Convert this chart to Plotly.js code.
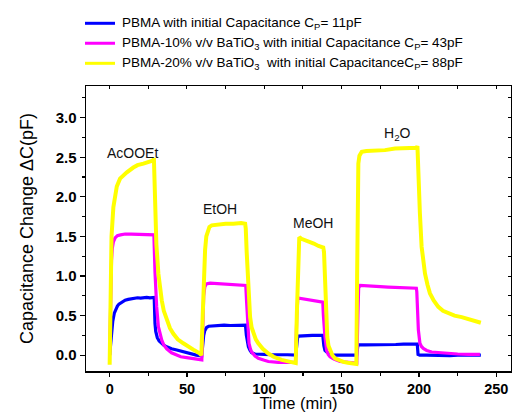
<!DOCTYPE html>
<html>
<head>
<meta charset="utf-8">
<script src="https://cdn.plot.ly/plotly-3.0.1.min.js"></script>
<style>html,body{margin:0;padding:0;background:#fff;}#chart{width:512px;height:412px;}</style>
</head>
<body>
<div id="chart"></div>
<script>
// Series names
const seriesNames = [
  "PBMA with initial Capacitance C<sub>P</sub>= 11pF",
  "PBMA-10% v/v BaTiO<sub>3</sub> with initial Capacitance C<sub>P</sub>= 43pF",
  "PBMA-20% v/v BaTiO<sub>3</sub>\u00a0 with initial CapacitanceC<sub>P</sub>= 88pF"
];
const seriesColors = ["#0000FF", "#FF00FF", "#FFFF00"];

// PBMA (blue): time (min) and capacitance change (pF)
const blueT = [0,0.5,1,1.5,2,3,4,5,6,8,10,12,14,16,18,20,22,24,26,28,28.8,
  29.3,29.8,30.8,32,33.7,35,36.9,40,43.4,46,49.8,53,56,59.5,
  60.2,60.8,61.5,62.7,64,66,70,74,78,82,86,87.8,88.4,89,89.7,90.8,91.8,94,96,100,105,110,115,120.3,
  121,121.5,122.2,125,128,131,134,137.8,138.5,139.2,140.3,142,143.6,147,151,155,159.7,
  160.5,161,165,170,175,180,185,190,195,198.9,199.4,200.5,205,210,215,220,225,230,235,240];
const blueV = [0,0.12,0.27,0.36,0.43,0.53,0.59,0.62,0.645,0.675,0.695,0.705,0.715,0.72,0.725,0.72,0.73,0.73,0.725,0.73,0.73,
  0.40,0.30,0.22,0.18,0.15,0.125,0.105,0.08,0.065,0.05,0.035,0.02,0.0,-0.01,
  0.15,0.25,0.31,0.35,0.365,0.37,0.375,0.38,0.375,0.38,0.38,0.38,0.25,0.15,0.105,0.06,0.03,0.015,0.01,0.01,0.005,0.01,0.005,0.0,
  0.15,0.22,0.24,0.245,0.245,0.25,0.25,0.25,0.12,0.06,0.04,0.015,0.0,0.0,0.0,0.0,0.0,
  0.125,0.13,0.13,0.13,0.135,0.135,0.135,0.14,0.14,0.14,0.01,0.0,0.0,-0.005,0.0,-0.005,0.0,0.0,0.0,0.0];

// PBMA-10% BaTiO3 (magenta)
const magT = [0,0.4,0.8,1.2,1.7,2.4,3.5,5,7,10,14,18,22,26,28.6,
  29.3,29.8,30.4,31.5,32.5,33.7,35,36.9,40,43.4,46,49.8,54,58.4,59.6,
  60.3,60.8,61.5,62.5,65,70,75,80,85,88,88.6,89.2,90.1,91,91.8,94,96.1,100,102.6,109,115,120.2,
  121,121.6,122.5,126,130,134,137,137.8,138.2,138.7,139.2,140.3,141.3,142.5,145,148.9,153,157.5,159.8,
  160.5,161,162,165,170,175,180,185,190,195,198.3,198.6,199.1,199.6,200.6,201.6,202.8,205,208.2,213,218.9,225,232,239.4];
const magV = [0,0.5,0.95,1.2,1.35,1.43,1.48,1.51,1.52,1.53,1.53,1.525,1.53,1.525,1.52,
  1.05,0.82,0.61,0.36,0.26,0.19,0.13,0.08,0.03,0.0,-0.02,-0.03,-0.045,-0.06,-0.06,
  0.4,0.75,0.86,0.9,0.91,0.905,0.9,0.895,0.89,0.88,0.65,0.40,0.15,0.08,0.04,-0.01,-0.04,-0.065,-0.08,-0.09,-0.09,-0.09,
  0.5,0.70,0.72,0.71,0.70,0.69,0.675,0.67,0.5,0.35,0.23,0.06,0.01,-0.02,-0.05,-0.08,-0.09,-0.1,-0.1,
  0.5,0.85,0.88,0.875,0.87,0.865,0.86,0.855,0.85,0.85,0.845,0.80,0.55,0.32,0.15,0.11,0.085,0.06,0.04,0.03,0.02,0.015,0.01,0.01];

// PBMA-20% BaTiO3 (yellow)
const yelT = [0,0.3,0.7,1.2,2.4,3.5,4.6,6.7,9,11.1,15.3,18,21.8,25,28.2,28.6,
  29.1,29.6,30.2,31.5,32.5,33.7,35,36.9,39,41.2,44,47.6,51,54.1,58.4,59.3,
  59.8,60.6,61.2,61.7,62.5,63.4,64.5,66,70,75,80,85,87.6,
  88,88.6,89.2,89.7,90.2,90.8,91.8,92.9,94.5,96.1,99,102.6,106,111.2,115,118.8,120.3,
  121,121.5,122,122.6,124,127,129.5,132,135,138.1,
  138.6,139.2,139.9,140.7,141.5,142.5,144,145.7,148,151.1,154,157.5,159.5,
  160,160.4,160.8,161.5,163,166,172,178,184.5,190,195,198.5,199,
  199.3,199.8,200.6,201.7,202.8,203.9,205.5,207.1,209.5,212.5,215.5,218.9,223,227.6,233,238.3,240];
const yelV = [-0.12,0.6,1.1,1.5,1.87,2.02,2.13,2.23,2.28,2.31,2.37,2.40,2.42,2.44,2.46,2.49,
  2.05,1.70,1.40,1.03,0.84,0.69,0.56,0.44,0.34,0.27,0.20,0.15,0.10,0.07,0.02,0.0,
  0.3,0.82,1.15,1.33,1.50,1.58,1.62,1.64,1.65,1.66,1.66,1.67,1.66,
  1.6,1.3,1.0,0.82,0.63,0.48,0.35,0.27,0.2,0.15,0.08,0.02,-0.02,-0.06,-0.08,-0.1,-0.1,
  0.5,1.0,1.35,1.49,1.47,1.45,1.43,1.41,1.38,1.36,
  1.3,0.95,0.57,0.23,0.12,0.06,0.0,-0.04,-0.065,-0.085,-0.095,-0.1,-0.11,
  1.0,2.0,2.42,2.52,2.57,2.58,2.58,2.59,2.61,2.61,2.62,2.62,2.64,
  2.4,2.1,1.79,1.37,1.17,1.03,0.89,0.78,0.69,0.61,0.56,0.53,0.50,0.48,0.45,0.42,0.41];

// Analyte labels
const labelText = ["AcOOEt", "EtOH", "MeOH", "H<sub>2</sub>O"];
const labelT = [14.5, 71.4, 131.2, 185.8];
const labelV = [2.56, 1.85, 1.67, 2.80];

const xTicks = [0, 50, 100, 150, 200, 250];
const yTicks = [0.0, 0.5, 1.0, 1.5, 2.0, 2.5, 3.0];

const FONT = "Liberation Sans, Arial, sans-serif";

const traces = [
  {x: blueT, y: blueV, name: seriesNames[0], mode: "lines", line: {color: seriesColors[0], width: 3.2}, showlegend: false},
  {x: magT, y: magV, name: seriesNames[1], mode: "lines", line: {color: seriesColors[1], width: 3.2}, showlegend: false},
  {x: yelT, y: yelV, name: seriesNames[2], mode: "lines", line: {color: seriesColors[2], width: 4}, showlegend: false},
  {x: [null], y: [null], xaxis: "x2", yaxis: "y2", showlegend: false, hoverinfo: "skip", mode: "lines"}
];

const xr = [-15.3, 259.5];
const yr = [-0.2, 3.4];

// legend key placement (paper coordinates)
const legendRowY = [1.22, 1.15, 1.0796];
const legendShapes = seriesColors.map((c, i) => ({
  type: "line", xref: "paper", yref: "paper",
  x0: -0.0024, x1: 0.0682, y0: legendRowY[i], y1: legendRowY[i],
  line: {color: c, width: 3}
}));
const legendLabels = seriesNames.map((n, i) => ({
  xref: "paper", yref: "paper", x: 0.08, y: legendRowY[i], xanchor: "left", yanchor: "middle",
  text: n, showarrow: false, font: {family: FONT, size: 13.5, color: "#000"}
}));

const layout = {
  width: 512, height: 412,
  margin: {l: 86, r: 1, t: 86, b: 41},
  paper_bgcolor: "#fff", plot_bgcolor: "#fff",
  font: {family: FONT, color: "#000"},
  showlegend: false,
  xaxis: {
    range: xr, tickmode: "array", tickvals: xTicks, ticktext: xTicks.map(String),
    ticks: "outside", ticklen: 4, tickwidth: 1.2, tickcolor: "#000",
    showline: true, linewidth: 1.5, linecolor: "#000", mirror: true,
    showgrid: false, zeroline: false,
    tickfont: {family: FONT, size: 14.5, weight: "bold", color: "#000"},
    minor: {dtick: 25, tick0: 0, ticks: "outside", ticklen: 3, tickcolor: "#000", showgrid: false},
    title: {text: "Time (min)", font: {family: FONT, size: 16.5, color: "#000"}, standoff: 5}
  },
  yaxis: {
    range: yr, tickmode: "array", tickvals: yTicks, ticktext: yTicks.map(v => v.toFixed(1)),
    ticks: "outside", ticklen: 5, tickwidth: 1.2, tickcolor: "#000",
    showline: true, linewidth: 1.5, linecolor: "#000", mirror: true,
    showgrid: false, zeroline: false,
    tickfont: {family: FONT, size: 15, weight: "bold", color: "#000"},
    minor: {dtick: 0.25, tick0: 0, ticks: "outside", ticklen: 3, tickcolor: "#000", showgrid: false},
    title: {text: "Capacitance Change \u0394C(pF)", font: {family: FONT, size: 18, color: "#000"}, standoff: 17}
  },
  xaxis2: {overlaying: "x", anchor: "y2", side: "top", range: xr, dtick: 25, tick0: 0,
           ticks: "inside", ticklen: 3, tickcolor: "#000", showticklabels: false,
           showgrid: false, zeroline: false, showline: false},
  yaxis2: {overlaying: "y", anchor: "x2", side: "right", range: yr, dtick: 0.25, tick0: 0,
           ticks: "inside", ticklen: 3, tickcolor: "#000", showticklabels: false,
           showgrid: false, zeroline: false, showline: false},
  shapes: legendShapes,
  annotations: labelText.map((t, i) => ({
    x: labelT[i], y: labelV[i], xref: "x", yref: "y", text: t, showarrow: false,
    font: {family: FONT, size: 14, color: "#111"}
  })).concat(legendLabels)
};

Plotly.newPlot("chart", traces, layout, {staticPlot: true, displayModeBar: false});
</script>
</body>
</html>
